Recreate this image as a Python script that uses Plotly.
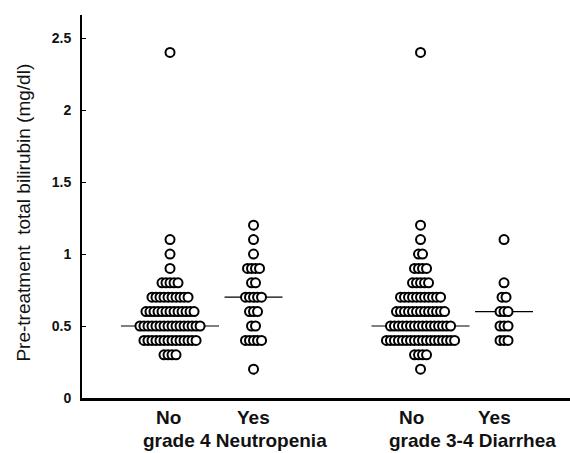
import plotly.graph_objects as go
import numpy as np

# ---- data: bilirubin values (mg/dl) and how many patients share each value ----
neut_no_vals   = [0.3, 0.4, 0.5, 0.6, 0.7, 0.8, 0.9, 1.0, 1.1, 2.4]
neut_no_counts = [4, 14, 16, 13, 10, 5, 1, 1, 1, 1]

neut_yes_vals   = [0.2, 0.4, 0.5, 0.6, 0.7, 0.8, 0.9, 1.0, 1.1, 1.2]
neut_yes_counts = [1, 5, 2, 3, 5, 2, 4, 1, 1, 1]

diar_no_vals   = [0.2, 0.3, 0.4, 0.5, 0.6, 0.7, 0.8, 0.9, 1.0, 1.1, 1.2, 2.4]
diar_no_counts = [1, 4, 18, 16, 13, 11, 5, 4, 2, 1, 1, 1]

diar_yes_vals   = [0.4, 0.5, 0.6, 0.7, 0.8, 1.1]
diar_yes_counts = [3, 3, 3, 2, 1, 1]

group_labels = ["No", "Yes", "No", "Yes"]
pair_labels = ["grade 4 Neutropenia", "grade 3-4 Diarrhea"]
y_ticks = [0, 0.5, 1, 1.5, 2, 2.5]
y_tick_text = ["0", "0.5", "1", "1.5", "2", "2.5"]

# ---- layout constants ----
centers = [1, 2, 4, 5]
step = 0.048            # horizontal spacing between tied points
median_half = [0.587, 0.347, 0.587, 0.347]
label_x = [0.976, 1.994, 3.886, 4.88]
pair_x = [1.778, 4.628]

groups = [
    (neut_no_vals, neut_no_counts),
    (neut_yes_vals, neut_yes_counts),
    (diar_no_vals, diar_no_counts),
    (diar_yes_vals, diar_yes_counts),
]

fig = go.Figure()

# median lines (below markers)
for (vals, counts), c, hw in zip(groups, centers, median_half):
    allv = np.repeat(vals, counts)
    med = float(np.median(allv))
    fig.add_trace(go.Scatter(
        x=[c - hw, c + hw], y=[med, med], mode="lines",
        line=dict(color="black", width=1.2), hoverinfo="skip", showlegend=False))

# points
for (vals, counts), c in zip(groups, centers):
    xs, ys = [], []
    for v, n in zip(vals, counts):
        for i in range(n):
            xs.append(c + (i - (n - 1) / 2) * step)
            ys.append(v)
    fig.add_trace(go.Scatter(
        x=xs, y=ys, mode="markers",
        marker=dict(symbol="circle", size=9, color="white",
                    line=dict(color="black", width=2)),
        showlegend=False))

bold = dict(family="Arial, Liberation Sans, sans-serif", size=19, color="#111")

annotations = []
for lx, t in zip(label_x, group_labels):
    annotations.append(dict(x=lx, y=-0.05, xref="x", yref="paper", text=f"<b>{t}</b>",
                            showarrow=False, font=bold, xanchor="center", yanchor="middle"))
for px, t in zip(pair_x, pair_labels):
    annotations.append(dict(x=px, y=-0.11, xref="x", yref="paper", text=f"<b>{t}</b>",
                            showarrow=False, font=bold, xanchor="center", yanchor="middle"))
annotations.append(dict(x=-0.119, y=0.484, xref="paper", yref="paper",
                        text="Pre-treatment  total bilirubin (mg/dl)", textangle=-90,
                        showarrow=False,
                        font=dict(family="Arial, Liberation Sans, sans-serif", size=19, color="#111"),
                        xanchor="center", yanchor="middle"))

fig.update_layout(
    width=570, height=453,
    margin=dict(l=82, r=0, t=15, b=55),
    plot_bgcolor="white", paper_bgcolor="white",
    xaxis=dict(range=[-0.054, 5.79], showticklabels=False, ticks="", showgrid=False,
               zeroline=False, showline=True, linecolor="black", linewidth=2.5),
    yaxis=dict(range=[0, 2.66], tickvals=y_ticks, ticktext=[f"<b>{t}</b>" for t in y_tick_text],
               ticks="inside", ticklen=4, tickcolor="black", tickwidth=1,
               ticklabelstandoff=6,
               tickfont=dict(family="Arial, Liberation Sans, sans-serif", size=14, color="#111"),
               showgrid=False, zeroline=False, showline=True, linecolor="black", linewidth=2),
    annotations=annotations,
)

fig.write_html("out.html", config={"displayModeBar": False},
               post_script="document.body.style.margin='0';document.body.style.overflow='hidden';")
